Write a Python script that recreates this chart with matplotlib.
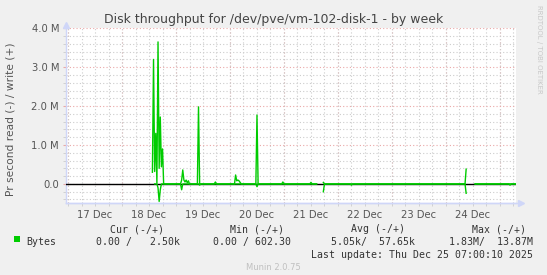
import numpy as np
import pandas as pd
import matplotlib
matplotlib.use('Agg')
import matplotlib.pyplot as plt
import matplotlib.dates as mdates
from matplotlib.patches import Rectangle
from matplotlib.ticker import MultipleLocator, FuncFormatter

W, H = 547, 275          # tamanho final em pixels
nan = np.nan

# escrita (+), MB/s  -- nan = sem dados
write_t = ["2025-12-18 13:30", "2025-12-18 14:00", "2025-12-18 14:30", "2025-12-18 15:00",
           "2025-12-18 15:30", "2025-12-18 16:00", "2025-12-18 16:30", "2025-12-18 17:00",
           "2025-12-18 17:30", "2025-12-18 18:00", "2025-12-18 18:30",
           "2025-12-19 02:00", "2025-12-19 02:30", "2025-12-19 03:00", "2025-12-19 03:30",
           "2025-12-19 04:00", "2025-12-19 04:30", "2025-12-19 05:00", "2025-12-19 05:30",
           "2025-12-19 06:00",
           "2025-12-19 09:30", "2025-12-19 10:00", "2025-12-19 10:30",
           "2025-12-19 17:00", "2025-12-19 17:30", "2025-12-19 18:00",
           "2025-12-20 02:00", "2025-12-20 02:30", "2025-12-20 03:00", "2025-12-20 03:30",
           "2025-12-20 04:00", "2025-12-20 04:30", "2025-12-20 05:00",
           "2025-12-20 11:30", "2025-12-20 12:00", "2025-12-20 12:30",
           "2025-12-20 23:00", "2025-12-20 23:30", "2025-12-21 00:00",
           "2025-12-21 11:30", "2025-12-21 12:00", "2025-12-21 12:30",
           "2025-12-21 14:30", "2025-12-21 15:00",
           "2025-12-21 17:30", "2025-12-21 18:00",
           "2025-12-24 08:30", "2025-12-24 09:00", "2025-12-24 09:30",
           "2025-12-24 13:00", "2025-12-25 07:00"]
write_v = [0.3, 3.2, 0.32, 1.3,
           0.02, 3.65, 0.4, 1.72,
           0.44, 0.9, 0.0,
           0.0, 0.1, 0.36, 0.1,
           0.05, 0.1, 0.03, 0.08,
           0.0,
           0.0, 1.98, 0.0,
           0.0, 0.05, 0.0,
           0.0, 0.23, 0.08, 0.1,
           0.08, 0.04, 0.0,
           0.0, 1.77, 0.0,
           0.0, 0.05, 0.0,
           0.0, 0.04, 0.0,
           0.0, nan,
           0.04, 0.0,
           0.0, 0.38, nan,
           0.0, 0.0]

# leitura (-), MB/s
read_t = ["2025-12-18 14:30", "2025-12-18 15:30", "2025-12-18 16:00", "2025-12-18 16:30",
          "2025-12-18 17:00", "2025-12-18 17:30",
          "2025-12-19 02:00", "2025-12-19 02:30", "2025-12-19 03:00",
          "2025-12-19 10:00", "2025-12-19 10:30", "2025-12-19 11:00",
          "2025-12-20 11:30", "2025-12-20 12:00", "2025-12-20 12:30",
          "2025-12-21 14:30", "2025-12-21 15:00",
          "2025-12-21 17:30", "2025-12-21 18:00",
          "2025-12-22 05:30", "2025-12-22 06:00", "2025-12-22 06:30",
          "2025-12-24 08:30", "2025-12-24 09:00", "2025-12-24 09:30",
          "2025-12-24 13:00", "2025-12-25 04:00", "2025-12-25 04:30", "2025-12-25 05:00",
          "2025-12-25 07:00"]
read_v = [0.0, 0.0, 0.1, 0.45,
          0.15, 0.0,
          0.0, 0.15, 0.0,
          0.0, 0.03, 0.0,
          0.0, 0.07, 0.0,
          0.0, nan,
          0.2, 0.0,
          0.0, 0.03, 0.0,
          0.0, 0.24, nan,
          0.0, 0.0, 0.03, 0.0,
          0.0]

day_labels = ["17 Dec", "18 Dec", "19 Dec", "20 Dec", "21 Dec", "22 Dec", "23 Dec", "24 Dec"]
day_noons = pd.to_datetime(["2025-12-%02d 12:00" % d for d in range(17, 25)])
y_ticks = [0, 1e6, 2e6, 3e6, 4e6]

title = "Disk throughput for /dev/pve/vm-102-disk-1 - by week"
ylabel = "Pr second read (-) / write (+)"
cols = ["Cur (-/+)", "Min (-/+)", "Avg (-/+)", "Max (-/+)"]
vals = ["0.00 /   2.50k", "0.00 / 602.30", "5.05k/  57.65k", "1.83M/  13.87M"]
last_update = "Last update: Thu Dec 25 07:00:10 2025"

verde = '#00cc00'
eixo = '#cfd6f8'
grade_maior = '#eaa8a8'
grade_menor = '#cccccc'

def fx(px):
    return px / W

def fy(py):
    return 1 - py / H

fig = plt.figure(figsize=(W / 100, H / 100), dpi=100, facecolor='#f0f0f0')
ax = fig.add_axes([fx(66), fy(203), fx(516) - fx(66), fy(28.3) - fy(203)])
ax.set_facecolor('white')

wt = pd.to_datetime(write_t)
rt = pd.to_datetime(read_t)

ax.set_xlim(pd.Timestamp("2025-12-16 23:05"), pd.Timestamp("2025-12-25 07:10"))
ax.set_ylim(-0.49e6, 4.0e6)

# grade
ax.yaxis.set_major_locator(MultipleLocator(1e6))
ax.yaxis.set_minor_locator(MultipleLocator(0.2e6))
ax.set_yticks(y_ticks)
ax.yaxis.set_major_formatter(FuncFormatter(lambda v, p: "0.0" if v == 0 else "%.1f M" % (v / 1e6)))
ax.grid(True, which='major', axis='y', color=grade_maior, ls=(0, (1, 2)), lw=0.8)
ax.grid(True, which='minor', axis='y', color=grade_menor, ls=(0, (1, 2)), lw=0.8)

ax.set_xticks(day_noons)
ax.set_xticklabels(day_labels)
ax.xaxis.set_minor_locator(mdates.HourLocator(byhour=[0, 6, 12, 18]))
ax.xaxis.remove_overlapping_locs = False
ax.grid(True, which='minor', axis='x', color=grade_menor, ls=(0, (1, 2)), lw=0.8)
for d in range(17, 26):
    ax.axvline(pd.Timestamp("2025-12-%02d" % d), color=grade_maior, ls=(0, (1, 2)), lw=0.8, zorder=1)

ax.tick_params(axis='x', which='major', length=0, pad=5, labelsize=7.2, labelcolor='#555555')
ax.tick_params(axis='x', which='minor', length=2, color=grade_menor)
ax.tick_params(axis='y', which='major', length=2, color=grade_maior, labelsize=7.2, labelcolor='#555555', pad=3)
ax.tick_params(axis='y', which='minor', length=2, color=grade_menor)

for s in ['top', 'right']:
    ax.spines[s].set_visible(False)
for s in ['left', 'bottom']:
    ax.spines[s].set_color(eixo)
    ax.spines[s].set_linewidth(1)
ax.plot([0, 0], [1.0, 1.02], color=eixo, lw=1, transform=ax.transAxes, clip_on=False)
ax.plot([0], [1.02], marker='^', ms=4, color=eixo, transform=ax.transAxes, clip_on=False)
ax.plot([0, 1.012], [0, 0], color=eixo, lw=1, transform=ax.transAxes, clip_on=False)
ax.plot([1.012], [0], marker='>', ms=4, color=eixo, transform=ax.transAxes, clip_on=False)

# linha do zero e dados
ax.axhline(0, color='black', lw=1, zorder=3)
ax.plot(wt, np.array(write_v) * 1e6, color=verde, lw=1, zorder=4)
ax.plot(rt, -np.array(read_v) * 1e6, color=verde, lw=1, zorder=4)

# textos
fig.text(0.5, fy(19), title, ha='center', va='center', fontsize=9.0, color='#444444')
fig.text(fx(11), fy(119), ylabel, rotation=90, ha='center', va='center', fontsize=7.7, color='#555555')
fig.text(fx(539), fy(5), "RRDTOOL / TOBI OETIKER", rotation=270, ha='center', va='top',
         fontsize=5, color='#c8c8c8')

mono = 'DejaVu Sans Mono'
col_x = [164, 284, 405, 526]
val_x = [180, 291, 415, 533]
for c, x in zip(cols, col_x):
    fig.text(fx(x), fy(229), c, ha='right', va='center', family=mono, fontsize=7.15, color='#333333')
fig.patches.append(Rectangle((fx(14), fy(242)), fx(6), 6 / H, transform=fig.transFigure,
                             facecolor=verde, edgecolor='none'))
fig.text(fx(26), fy(242), "Bytes", ha='left', va='center', family=mono, fontsize=7.15, color='#333333')
for v, x in zip(vals, val_x):
    fig.text(fx(x), fy(242), v, ha='right', va='center', family=mono, fontsize=7.15, color='#333333')
fig.text(fx(533), fy(254.5), last_update, ha='right', va='center', family=mono, fontsize=7.15, color='#333333')
fig.text(0.5, fy(267), "Munin 2.0.75", ha='center', va='center', fontsize=6, color='#c0c0c0')

fig.savefig('out.png', dpi=100, facecolor=fig.get_facecolor())
